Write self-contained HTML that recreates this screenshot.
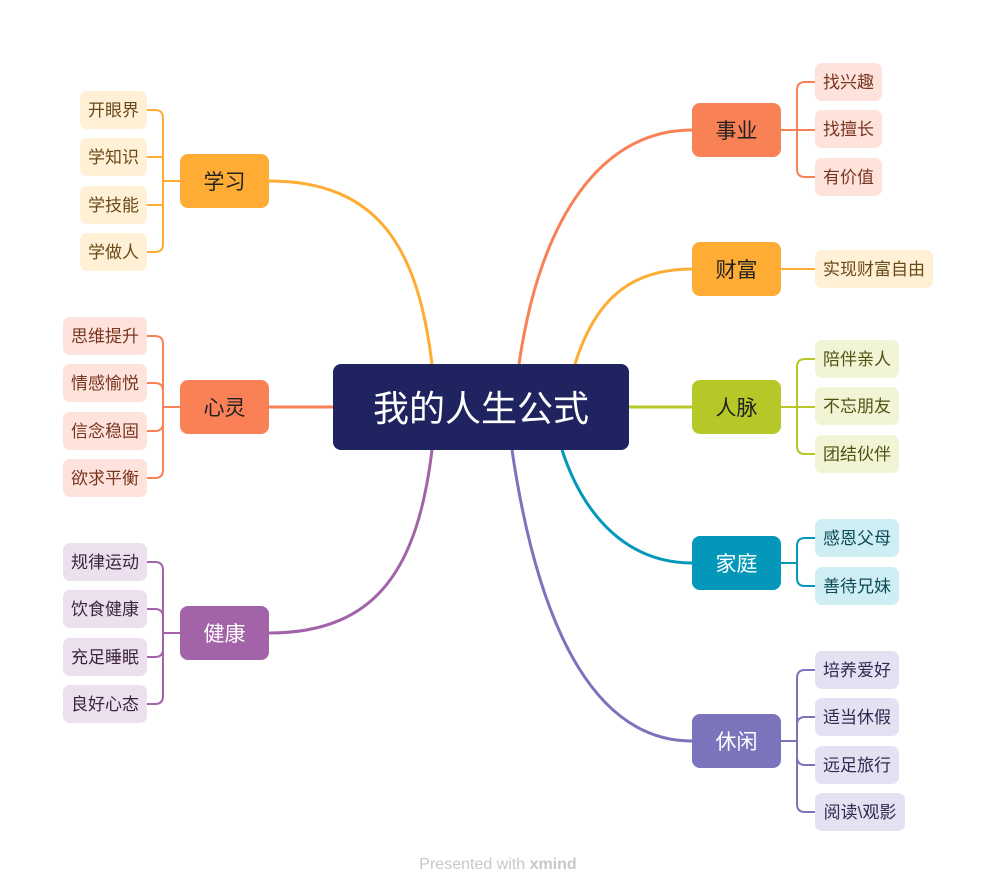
<!DOCTYPE html>
<html><head><meta charset="utf-8"><style>
html,body{margin:0;padding:0;background:#fff;}
svg{display:block;font-family:"Liberation Sans","Noto Sans CJK SC",sans-serif;}
</style></head><body>
<svg width="997" height="895" viewBox="0 0 997 895" xmlns="http://www.w3.org/2000/svg">
<g fill="none" stroke-width="3">
<path d="M432,364 C418,250 380,181 269,181" stroke="#ffac35"/>
<path d="M269,407 L333,407" stroke="#fa8155"/>
<path d="M432,450 C418,564 380,633 269,633" stroke="#a263a8"/>
<path d="M519,364 C540,220 600,130 692,130" stroke="#f98156"/>
<path d="M575,364 C595,300 630,269 692,269" stroke="#ffac35"/>
<path d="M629,407 L692,407" stroke="#b6c828"/>
<path d="M562,450 C585,520 630,563 692,563" stroke="#0398b9"/>
<path d="M512,450 C540,640 600,741 692,741" stroke="#7b74bd"/>
</g>
<g fill="none" stroke-width="2">
<g stroke="#ffac35">
<path d="M180,181 H163"/><path d="M147,110 H155 Q163,110 163,118 V244 Q163,252 155,252 H147"/><path d="M147,157 H163 M147,205 H163"/>
</g>
<g stroke="#fa8155">
<path d="M180,407 H163"/><path d="M147,336 H155 Q163,336 163,344 V470 Q163,478 155,478 H147"/><path d="M147,383 H155 Q163,383 163,391 M147,431 H155 Q163,431 163,423"/>
</g>
<g stroke="#a263a8">
<path d="M180,633 H163"/><path d="M147,562 H155 Q163,562 163,570 V696 Q163,704 155,704 H147"/><path d="M147,609 H155 Q163,609 163,617 M147,657 H155 Q163,657 163,649"/>
</g>
<g stroke="#f98156">
<path d="M781,130 H815"/><path d="M815,82 H805 Q797,82 797,90 V169 Q797,177 805,177 H815"/>
</g>
<g stroke="#ffac35"><path d="M781,269 H815"/></g>
<g stroke="#b6c828">
<path d="M781,407 H815"/><path d="M815,359 H805 Q797,359 797,367 V446 Q797,454 805,454 H815"/>
</g>
<g stroke="#0398b9">
<path d="M781,563 H797"/><path d="M815,538 H805 Q797,538 797,546 V578 Q797,586 805,586 H815"/>
</g>
<g stroke="#7b74bd">
<path d="M781,741 H797"/><path d="M815,670 H805 Q797,670 797,678 V804 Q797,812 805,812 H815"/><path d="M815,717 H805 Q797,717 797,725 M815,765 H805 Q797,765 797,757"/>
</g>
</g>
<rect x="333" y="364" width="296" height="86" rx="8" fill="#1f2360"/>
<text x="481" y="421" font-size="36" fill="#fff" text-anchor="middle">我的人生公式</text>
<g font-size="21" text-anchor="middle">
<rect x="180" y="154" width="89" height="54" rx="8" fill="#ffac35"/><text x="224.5" y="189" fill="#222">学习</text>
<rect x="180" y="380" width="89" height="54" rx="8" fill="#fa8155"/><text x="224.5" y="415" fill="#222">心灵</text>
<rect x="180" y="606" width="89" height="54" rx="8" fill="#a263a8"/><text x="224.5" y="641" fill="#fff">健康</text>
<rect x="692" y="103" width="89" height="54" rx="8" fill="#f98156"/><text x="736.5" y="138" fill="#222">事业</text>
<rect x="692" y="242" width="89" height="54" rx="8" fill="#ffac35"/><text x="736.5" y="277" fill="#222">财富</text>
<rect x="692" y="380" width="89" height="54" rx="8" fill="#b6c828"/><text x="736.5" y="415" fill="#222">人脉</text>
<rect x="692" y="536" width="89" height="54" rx="8" fill="#0398b9"/><text x="736.5" y="571" fill="#fff">家庭</text>
<rect x="692" y="714" width="89" height="54" rx="8" fill="#7b74bd"/><text x="736.5" y="749" fill="#fff">休闲</text>
</g>
<g font-size="17" text-anchor="middle">
<g fill="#fff0d6"><rect x="80" y="91" width="67" height="38" rx="7"/><rect x="80" y="138" width="67" height="38" rx="7"/><rect x="80" y="186" width="67" height="38" rx="7"/><rect x="80" y="233" width="67" height="38" rx="7"/></g>
<g fill="#6b4a1a"><text x="113.5" y="116">开眼界</text><text x="113.5" y="163">学知识</text><text x="113.5" y="211">学技能</text><text x="113.5" y="258">学做人</text></g>
<g fill="#fde3dc"><rect x="63" y="317" width="84" height="38" rx="7"/><rect x="63" y="364" width="84" height="38" rx="7"/><rect x="63" y="412" width="84" height="38" rx="7"/><rect x="63" y="459" width="84" height="38" rx="7"/></g>
<g fill="#7a3520"><text x="105" y="342">思维提升</text><text x="105" y="389">情感愉悦</text><text x="105" y="437">信念稳固</text><text x="105" y="484">欲求平衡</text></g>
<g fill="#ecdfee"><rect x="63" y="543" width="84" height="38" rx="7"/><rect x="63" y="590" width="84" height="38" rx="7"/><rect x="63" y="638" width="84" height="38" rx="7"/><rect x="63" y="685" width="84" height="38" rx="7"/></g>
<g fill="#3d2540"><text x="105" y="568">规律运动</text><text x="105" y="615">饮食健康</text><text x="105" y="663">充足睡眠</text><text x="105" y="710">良好心态</text></g>
<g fill="#fde3dc"><rect x="815" y="63" width="67" height="38" rx="7"/><rect x="815" y="110" width="67" height="38" rx="7"/><rect x="815" y="158" width="67" height="38" rx="7"/></g>
<g fill="#7a3520"><text x="848.5" y="88">找兴趣</text><text x="848.5" y="135">找擅长</text><text x="848.5" y="183">有价值</text></g>
<rect x="815" y="250" width="118" height="38" rx="7" fill="#fff0d6"/><text x="874" y="275" fill="#6b4a1a">实现财富自由</text>
<g fill="#f1f4d5"><rect x="815" y="340" width="84" height="38" rx="7"/><rect x="815" y="387" width="84" height="38" rx="7"/><rect x="815" y="435" width="84" height="38" rx="7"/></g>
<g fill="#4d5410"><text x="857" y="365">陪伴亲人</text><text x="857" y="412">不忘朋友</text><text x="857" y="460">团结伙伴</text></g>
<g fill="#cfeef4"><rect x="815" y="519" width="84" height="38" rx="7"/><rect x="815" y="567" width="84" height="38" rx="7"/></g>
<g fill="#0c4a5a"><text x="857" y="544">感恩父母</text><text x="857" y="592">善待兄妹</text></g>
<g fill="#e4e2f2"><rect x="815" y="651" width="84" height="38" rx="7"/><rect x="815" y="698" width="84" height="38" rx="7"/><rect x="815" y="746" width="84" height="38" rx="7"/><rect x="815" y="793" width="90" height="38" rx="7"/></g>
<g fill="#2e2a50"><text x="857" y="676">培养爱好</text><text x="857" y="723">适当休假</text><text x="857" y="771">远足旅行</text><text x="860" y="818">阅读\观影</text></g>
</g>
<text x="498" y="869" font-size="16" fill="#c8c8c8" text-anchor="middle">Presented with <tspan font-weight="bold">xmind</tspan></text>
</svg>
</body></html>
